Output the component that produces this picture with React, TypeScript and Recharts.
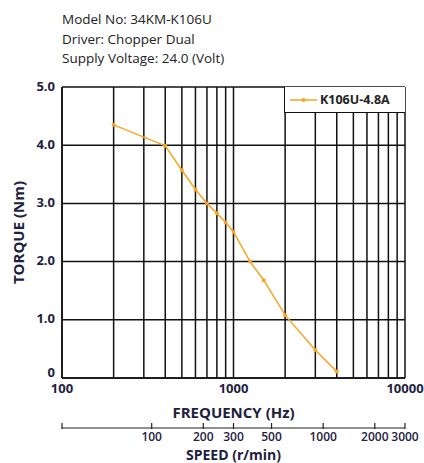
import React from "react";
import {
  CartesianGrid,
  Line,
  LineChart,
  XAxis,
  YAxis,
} from "recharts";

const TITLE_LINES = [
  "Model No: 34KM-K106U",
  "Driver: Chopper Dual",
  "Supply Voltage: 24.0 (Volt)",
];

const SERIES_NAME = "K106U-4.8A";
const FREQS = [200, 400, 500, 600, 700, 800, 900, 1000, 1250, 1500, 2000, 3000, 4000];
const TORQUES = [4.35, 3.99, 3.57, 3.24, 3.0, 2.83, 2.67, 2.51, 2.0, 1.68, 1.08, 0.48, 0.11];

const FREQ_TICKS = [
  100, 200, 300, 400, 500, 600, 700, 800, 900,
  1000, 2000, 3000, 4000, 5000, 6000, 7000, 8000, 9000, 10000,
];
const FREQ_LABELS = [100, 1000, 10000];
const TORQUE_TICKS = [0, 1, 2, 3, 4, 5];
const SPEED_TICKS = [30, 100, 200, 300, 500, 1000, 2000, 3000];
// full step, 200 steps/rev: r/min = Hz * 60 / 200
const RPM_PER_HZ = 0.3;

const ORANGE = "#f7a623";
const INK = "#1d2140";
const FONT = "'Open Sans', 'DejaVu Sans', sans-serif";

const data = FREQS.map((f, i) => ({ freq: f, speed: f * RPM_PER_HZ, torque: TORQUES[i] }));

function SpeedTick(props: any) {
  const { x, y, payload } = props;
  return (
    <g>
      <line x1={x} x2={x} y1={y - 5} y2={y + 1} stroke="#222" strokeWidth={1.2} />
      {payload.value !== 30 && (
        <text
          x={x}
          y={y + 13}
          textAnchor="middle"
          fontSize={12}
          fontWeight={600}
          fill={INK}
          fontFamily={FONT}
        >
          {payload.value}
        </text>
      )}
    </g>
  );
}

function TorqueTick(props: any) {
  const { x, y, payload } = props;
  const v = payload.value as number;
  return (
    <text
      x={x}
      y={y + (v === 0 ? -6 : -1)}
      dy="0.355em"
      textAnchor="end"
      fontSize={13}
      fontWeight={700}
      fill={INK}
      fontFamily={FONT}
    >
      {v === 0 ? "0" : v.toFixed(1)}
    </text>
  );
}

function LegendBox() {
  return (
    <div
      style={{
        position: "absolute",
        left: 284,
        top: 87,
        width: 121,
        height: 26,
        background: "#fff",
        borderLeft: "1.5px solid #111",
        borderBottom: "1.5px solid #111",
        display: "flex",
        alignItems: "center",
        boxSizing: "border-box",
        paddingLeft: 5,
        fontFamily: FONT,
      }}
    >
      <svg width={27} height={10}>
        <line x1={0} x2={27} y1={5} y2={5} stroke={ORANGE} strokeWidth={1.5} />
        <circle cx={13.5} cy={5} r={2} fill={ORANGE} />
      </svg>
      <span style={{ marginLeft: 3, fontSize: 12.5, fontWeight: 700, color: "#222" }}>
        {SERIES_NAME}
      </span>
    </div>
  );
}

const labelStyle = { fontSize: 15, fontWeight: 700, fill: INK, fontFamily: FONT };
const tickStyle = { fontSize: 13, fontWeight: 700, fill: INK, fontFamily: FONT };

export default function App() {
  return (
    <div style={{ position: "absolute", left: 0, top: 0, width: 424, height: 463, background: "#fff" }}>
      <div
        style={{
          position: "absolute",
          left: 62,
          top: 10,
          fontFamily: FONT,
          fontSize: 13.5,
          lineHeight: "19.5px",
          color: "#222",
        }}
      >
        {TITLE_LINES.map((t) => (
          <div key={t}>{t}</div>
        ))}
      </div>
      <LineChart
        width={424}
        height={463}
        data={data}
        margin={{ top: 87, right: 19, bottom: 0, left: 0 }}
      >
        <CartesianGrid
          xAxisId="freq"
          stroke="#111"
          strokeWidth={1.5}
          strokeDasharray=""
        />
        <XAxis
          xAxisId="freq"
          dataKey="freq"
          type="number"
          scale="log"
          domain={[100, 10000]}
          ticks={FREQ_TICKS}
          allowDataOverflow
          interval={0}
          tickFormatter={(v: number) => (FREQ_LABELS.includes(v) ? String(v) : "")}
          tickLine={false}
          tickSize={0}
          tickMargin={6}
          height={50}
          axisLine={{ stroke: "#111", strokeWidth: 1.5 }}
          tick={tickStyle}
          label={{ value: "FREQUENCY (Hz)", position: "insideBottom", offset: 10, style: labelStyle }}
        />
        <XAxis
          xAxisId="speed"
          dataKey="speed"
          type="number"
          scale="log"
          domain={[30, 3000]}
          ticks={SPEED_TICKS}
          allowDataOverflow
          interval={0}
          tickLine={false}
          tickSize={0}
          tickMargin={0}
          height={35}
          axisLine={{ stroke: "#222", strokeWidth: 1.2 }}
          tick={<SpeedTick />}
          label={{
            value: "SPEED (r/min)",
            position: "insideBottom",
            offset: 3.5,
            style: { ...labelStyle, fontSize: 14 },
          }}
        />
        <YAxis
          type="number"
          domain={[0, 5]}
          ticks={TORQUE_TICKS}
          interval={0}
          width={62}
          tickLine={false}
          tickSize={0}
          tickMargin={7}
          axisLine={{ stroke: "#111", strokeWidth: 1.5 }}
          tick={<TorqueTick />}
          label={{
            value: "TORQUE (Nm)",
            angle: -90,
            position: "insideLeft",
            offset: 19,
            style: { ...labelStyle, textAnchor: "middle" },
          }}
        />
        <Line
          xAxisId="speed"
          dataKey="torque"
          stroke="none"
          dot={false}
          activeDot={false}
          legendType="none"
          isAnimationActive={false}
        />
        <Line
          xAxisId="freq"
          dataKey="torque"
          name={SERIES_NAME}
          type="linear"
          stroke={ORANGE}
          strokeWidth={1.5}
          dot={{ r: 2, fill: ORANGE, stroke: ORANGE, strokeWidth: 0 }}
          activeDot={false}
          isAnimationActive={false}
        />
      </LineChart>
      <LegendBox />
    </div>
  );
}
